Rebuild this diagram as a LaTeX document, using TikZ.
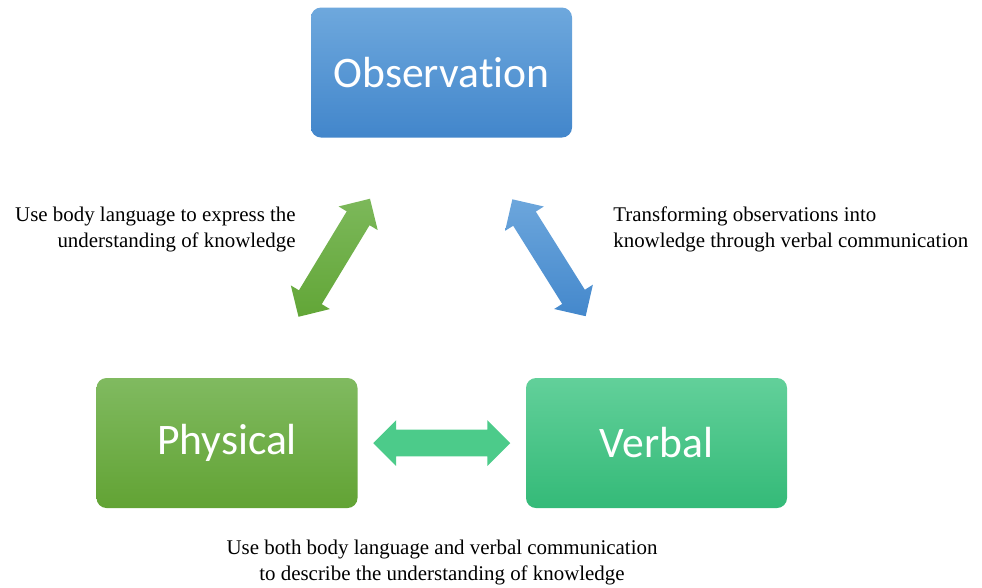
\documentclass[tikz,border=0pt]{standalone}
\usepackage{fontspec}
\setmainfont{Liberation Serif}
\newfontfamily\boxfont[Ligatures=NoCommon]{Carlito}
\usetikzlibrary{shapes.arrows, calc}
\definecolor{obsTop}{RGB}{110,168,221}
\definecolor{obsBot}{RGB}{66,134,203}
\definecolor{phyTop}{RGB}{128,186,96}
\definecolor{phyBot}{RGB}{98,163,52}
\definecolor{verTop}{RGB}{98,208,154}
\definecolor{verBot}{RGB}{52,186,120}
\definecolor{arrGreenA}{RGB}{98,166,55}
\definecolor{arrGreenB}{RGB}{124,184,90}
\definecolor{arrBlueA}{RGB}{68,136,204}
\definecolor{arrBlueB}{RGB}{108,166,220}
\definecolor{arrTeal}{RGB}{76,203,138}
\tikzset{
  stage/.style={rounded corners=0.2cm, minimum width=5.22cm, minimum height=2.6cm,
    text=white, font=\boxfont\fontsize{24.8}{28}\selectfont},
  link/.style={double arrow, draw=none, inner xsep=0, inner ysep=0.26cm,
    minimum height=2.76cm, double arrow head extend=0.19cm},
  note/.style={inner sep=0, font=\fontsize{11.9}{14.8}\selectfont}
}
\begin{document}
\begin{tikzpicture}
  \useasboundingbox (0,0) rectangle (19.64,-11.74);
  % BOXES
  \node[stage, top color=obsTop, bottom color=obsBot] (obs) at (8.83,-1.45) {Observation};
  \node[stage, top color=phyTop, bottom color=phyBot] (phy) at (4.54,-8.86) {Physical};
  \node[stage, top color=verTop, bottom color=verBot] (ver) at (13.13,-8.86) {Verbal};
  % ARROWS
  % -- observation / physical
  \node[link, rotate=58.8, top color=arrGreenB, bottom color=arrGreenA] (lnkphy)
    at ($(obs)!0.5!(phy)$) {};
  % -- observation / verbal
  \node[link, rotate=122.1, top color=arrBlueB, bottom color=arrBlueA] (lnkver)
    at ($(obs)!0.5!(ver)$) {};
  % -- physical / verbal
  \node[link, fill=arrTeal, minimum height=2.74cm] (lnkbot)
    at ($(phy)!0.5!(ver)$) {};
  % LABELS
  \node[note, anchor=east, align=right] (txtphy) at (5.92,-4.58)
    {Use body language to express the\\understanding of knowledge};
  \node[note, anchor=west, align=left] (txtver) at (12.26,-4.58)
    {Transforming observations into\\knowledge through verbal communication};
  \node[note, align=center] (txtbot) at (8.84,-11.25)
    {Use both body language and verbal communication\\to describe the understanding of knowledge};
\end{tikzpicture}
\end{document}
